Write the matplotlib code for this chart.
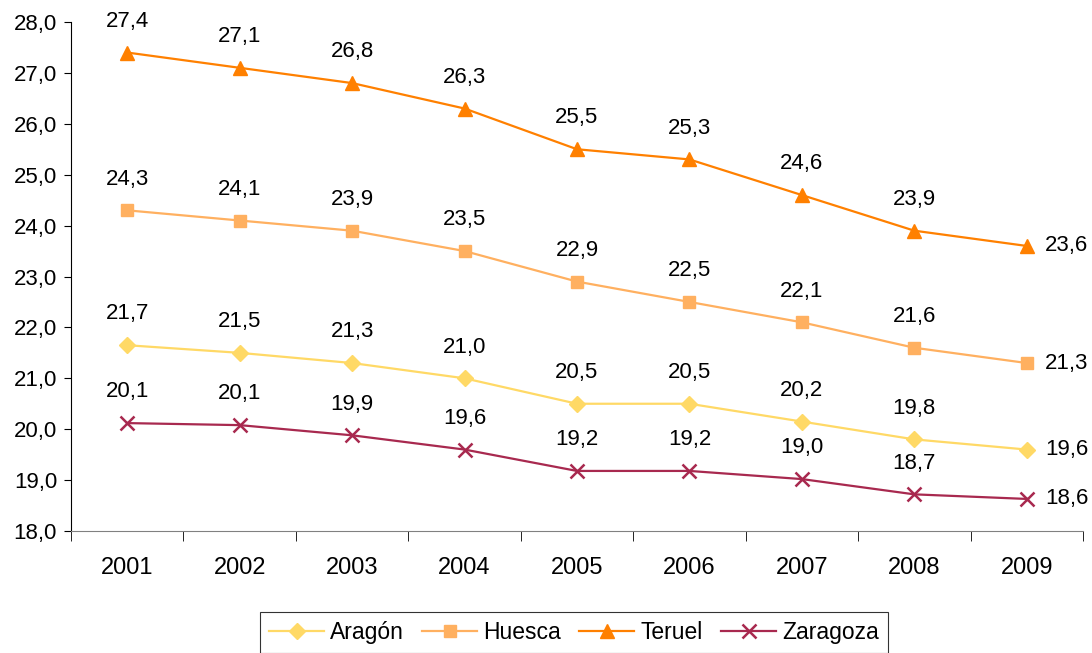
import matplotlib
matplotlib.use("Agg")
import matplotlib.pyplot as plt

plt.rcParams['font.family'] = ['Liberation Sans', 'DejaVu Sans']

years = ["2001", "2002", "2003", "2004", "2005", "2006", "2007", "2008", "2009"]
aragon = [21.65, 21.5, 21.3, 21.0, 20.5, 20.5, 20.15, 19.8, 19.6]
aragon_lbl = ["21,7", "21,5", "21,3", "21,0", "20,5", "20,5", "20,2", "19,8", "19,6"]
huesca = [24.3, 24.1, 23.9, 23.5, 22.9, 22.5, 22.1, 21.6, 21.3]
huesca_lbl = ["24,3", "24,1", "23,9", "23,5", "22,9", "22,5", "22,1", "21,6", "21,3"]
teruel = [27.4, 27.1, 26.8, 26.3, 25.5, 25.3, 24.6, 23.9, 23.6]
teruel_lbl = ["27,4", "27,1", "26,8", "26,3", "25,5", "25,3", "24,6", "23,9", "23,6"]
zaragoza = [20.12, 20.08, 19.88, 19.6, 19.18, 19.18, 19.02, 18.72, 18.63]
zaragoza_lbl = ["20,1", "20,1", "19,9", "19,6", "19,2", "19,2", "19,0", "18,7", "18,6"]
yticks = [18, 19, 20, 21, 22, 23, 24, 25, 26, 27, 28]

series = [
    ("Aragón", aragon, aragon_lbl, "#FFD966", "D", 8, None),
    ("Huesca", huesca, huesca_lbl, "#FFB060", "s", 8, None),
    ("Teruel", teruel, teruel_lbl, "#FF8000", "^", 10, None),
    ("Zaragoza", zaragoza, zaragoza_lbl, "#A8294F", "x", 10, 1.8),
]

fig = plt.figure(figsize=(10.92, 6.53), dpi=100)
ax = fig.add_axes([71/1092, 1 - 531/653, (1083-71)/1092, (531-22)/653])

x = list(range(len(years)))
for name, vals, lbls, col, mk, ms, mew in series:
    kw = dict(color=col, marker=mk, markersize=ms, linewidth=1.6, label=name)
    if mk == "x":
        kw["markeredgewidth"] = mew
    else:
        kw["markeredgecolor"] = col
        kw["markerfacecolor"] = col
    ax.plot(x, vals, **kw)
    for i, (v, t) in enumerate(zip(vals, lbls)):
        if i == len(vals) - 1:
            ax.annotate(t, (i, v), xytext=(13, 0), textcoords="offset points",
                        ha="left", va="center", fontsize=16)
        else:
            ax.annotate(t, (i, v), xytext=(0, 22.5), textcoords="offset points",
                        ha="center", va="center", fontsize=16)

ax.set_xlim(-0.5, len(years) - 0.5)
ax.set_ylim(18, 28)
ax.set_yticks(yticks)
ax.set_yticklabels([f"{t:.1f}".replace(".", ",") for t in yticks], fontsize=16)
ax.set_xticks(x)
ax.set_xticklabels(years, fontsize=17)
ax.tick_params(axis="x", which="major", length=0, pad=19)
ax.set_xticks([i - 0.5 for i in range(len(years) + 1)], minor=True)
ax.tick_params(axis="x", which="minor", length=7, direction="out", color="black")
ax.tick_params(axis="y", length=5, direction="out", pad=5)

ax.spines["top"].set_visible(False)
ax.spines["right"].set_visible(False)
ax.spines["bottom"].set_color("#808080")
ax.spines["left"].set_color("black")

leg = fig.legend(loc="upper center", bbox_to_anchor=(574/1092, 1 - 612/653), ncol=4,
                 fontsize=16.5, frameon=True, fancybox=False, edgecolor="black",
                 handlelength=2.4, columnspacing=0.8, handletextpad=0.26,
                 borderpad=0.4, borderaxespad=0)
leg.get_frame().set_linewidth(0.8)

fig.savefig("out.png", dpi=100)
